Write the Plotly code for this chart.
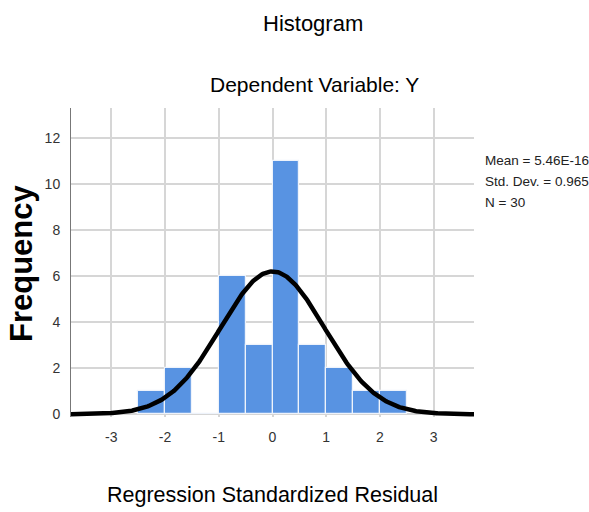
import numpy as np
import plotly.graph_objects as go

# Data
bin_starts = [-2.5, -2.0, -1.5, -1.0, -0.5, 0.0, 0.5, 1.0, 1.5, 2.0]
bin_width = 0.5
counts = [1, 2, 0, 6, 3, 11, 3, 2, 1, 1]
mean = 5.46e-16
std_dev = 0.965
n_obs = 30
x_ticks = [-3, -2, -1, 0, 1, 2, 3]
y_ticks = [0, 2, 4, 6, 8, 10, 12]
stat_lines = ["Mean = 5.46E-16", f"Std. Dev. = {std_dev:.3f}", f"N = {n_obs}"]

FONT = "Liberation Sans, Arial, sans-serif"

centers = [s + bin_width / 2 for s in bin_starts]

# Fitted normal curve (as SPSS draws it from mean, sd and N)
xc = np.linspace(-3.75, 3.75, 400)
yc = n_obs * bin_width / (std_dev * np.sqrt(2 * np.pi)) * np.exp(-0.5 * ((xc - mean) / std_dev) ** 2)

fig = go.Figure()
fig.add_trace(go.Bar(
    x=centers, y=counts, width=bin_width,
    marker=dict(color="#5893E2", line=dict(color="#EEF3FB", width=1.2)),
    hoverinfo="x+y", showlegend=False,
))
fig.add_trace(go.Scatter(
    x=xc, y=yc, mode="lines",
    line=dict(color="black", width=4.5),
    showlegend=False, hoverinfo="skip",
))

# plot area: x 71..474, y 108..417 (pixels)
PL, PR, PT, PB = 71, 474, 108, 417
def px(x):
    return (x - PL) / (PR - PL)
def py(y):
    return (PB - y) / (PB - PT)

annotations = [
    dict(text="Histogram", x=px(313), y=py(24), font=dict(size=22)),
    dict(text="Dependent Variable: Y", x=px(314), y=py(84), font=dict(size=21)),
    dict(text="Regression Standardized Residual", x=px(272), y=py(495), font=dict(size=21.5)),
    dict(text="<b>Frequency</b>", x=px(21), y=py(263), textangle=-90, font=dict(size=31)),
]
for i, t in enumerate(stat_lines):
    annotations.append(dict(text=t, x=px(483), y=py(160 + 21 * i), xanchor="left",
                            font=dict(size=13.5, color="#222")))
for a in annotations:
    a.setdefault("xanchor", "center")
    a.update(xref="paper", yref="paper", yanchor="middle", showarrow=False)
    a["font"].setdefault("color", "black")
    a["font"]["family"] = FONT

fig.update_layout(
    width=589, height=512,
    margin=dict(l=PL, r=589 - PR, t=PT, b=512 - PB),
    paper_bgcolor="white", plot_bgcolor="white",
    font=dict(family=FONT, color="#222"),
    bargap=0,
    xaxis=dict(
        range=[-3.75, 3.75], tickvals=x_ticks,
        ticktext=[str(v) for v in x_ticks],
        showgrid=True, gridcolor="#D6D6D6", gridwidth=1.5,
        zeroline=False, showline=False, ticks="",
        tickfont=dict(family=FONT, size=14, color="#333"),
        ticklabelstandoff=10,
    ),
    yaxis=dict(
        range=[-0.12, 13.3], tickvals=y_ticks,
        showgrid=True, gridcolor="#D6D6D6", gridwidth=1.5,
        zeroline=False, showline=True, linecolor="#777", linewidth=1,
        ticks="", tickfont=dict(family=FONT, size=14, color="#333"),
        ticklabelstandoff=7,
    ),
    annotations=annotations,
)

fig.write_html("out.html", config={"displayModeBar": False},
               post_script="document.body.style.margin='0px';")
